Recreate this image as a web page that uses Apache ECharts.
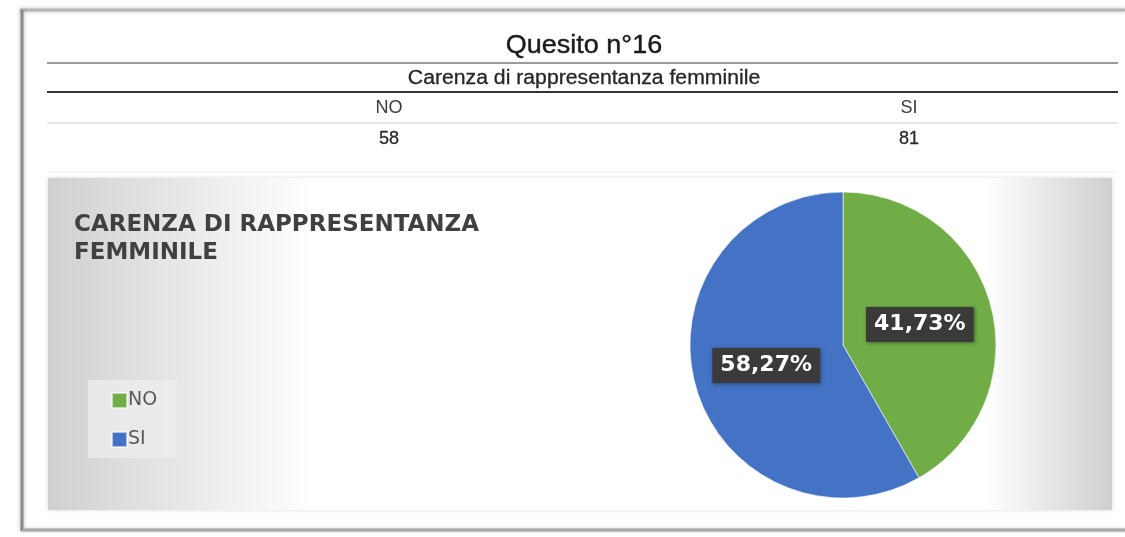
<!DOCTYPE html>
<html>
<head>
<meta charset="utf-8">
<script src="https://cdn.jsdelivr.net/npm/echarts@6/dist/echarts.min.js"></script>
<style>
html,body{margin:0;padding:0;background:#fff;}
#c{width:1125px;height:537px;}
</style>
</head>
<body>
<div id="c"></div>
<script>
const tableTitle = 'Quesito n°16';
const tableSubtitle = 'Carenza di rappresentanza femminile';
const chartTitle = 'CARENZA DI RAPPRESENTANZA\nFEMMINILE';
const categories = ['NO', 'SI'];
const values = [58, 81];
const colors = ['#70ad47', '#4472c4'];
const columnX = [389, 909];

const chart = echarts.init(document.getElementById('c'), null, {renderer: 'canvas'});

const tableFont = '"Liberation Sans", Arial, sans-serif';
const graphics = [
  // outer frame
  {type: 'line', shape: {x1: 20, y1: 10, x2: 1125, y2: 10}, style: {stroke: '#b5b5b5', lineWidth: 3, shadowBlur: 4, shadowColor: 'rgba(0,0,0,0.25)'}},
  {type: 'line', shape: {x1: 22, y1: 10, x2: 22, y2: 531}, style: {stroke: '#8a8a8a', lineWidth: 3, shadowBlur: 4, shadowColor: 'rgba(0,0,0,0.3)'}},
  {type: 'line', shape: {x1: 22, y1: 530, x2: 1125, y2: 530}, style: {stroke: '#a8a8a8', lineWidth: 3, shadowBlur: 3, shadowColor: 'rgba(0,0,0,0.25)'}},
  // table rules
  {type: 'line', shape: {x1: 47, y1: 63, x2: 1118, y2: 63}, style: {stroke: '#9a9a9a', lineWidth: 2}},
  {type: 'line', shape: {x1: 47, y1: 92, x2: 1118, y2: 92}, style: {stroke: '#333', lineWidth: 2}},
  {type: 'line', shape: {x1: 47, y1: 123, x2: 1118, y2: 123}, style: {stroke: '#dedede', lineWidth: 1.5}},
  {type: 'line', shape: {x1: 47, y1: 172, x2: 1118, y2: 172}, style: {stroke: '#eeeeee', lineWidth: 1}},
  // table texts
  {type: 'text', x: 584, y: 46, scaleX: 1.08, style: {text: tableTitle, font: '25px ' + tableFont, fill: '#1a1a1a', stroke: '#1a1a1a', lineWidth: 0.4, textAlign: 'center', textVerticalAlign: 'middle'}},
  {type: 'text', x: 584, y: 78, scaleX: 1.06, style: {text: tableSubtitle, font: '20px ' + tableFont, fill: '#262626', stroke: '#262626', lineWidth: 0.3, textAlign: 'center', textVerticalAlign: 'middle'}},
  // chart area background
  {type: 'rect', z: -10, shape: {x: 48, y: 178, width: 1064, height: 332},
    style: {fill: new echarts.graphic.LinearGradient(0, 0, 1, 0, [
      {offset: 0, color: '#d0d0d0'}, {offset: 0.25, color: '#ffffff'},
      {offset: 0.88, color: '#ffffff'}, {offset: 1, color: '#cfcfcf'}]),
      shadowBlur: 4, shadowColor: 'rgba(0,0,0,0.15)'}}
];
categories.forEach((c, i) => {
  graphics.push({type: 'text', x: columnX[i], y: 108, scaleX: 0.95, style: {text: c, font: '19px ' + tableFont, fill: '#3c3c3c', textAlign: 'center', textVerticalAlign: 'middle'}});
  graphics.push({type: 'text', x: columnX[i], y: 139, scaleX: 0.95, style: {text: String(values[i]), font: '19px ' + tableFont, fill: '#2a2a2a', stroke: '#2a2a2a', lineWidth: 0.3, textAlign: 'center', textVerticalAlign: 'middle'}});
});

chart.setOption({
  animation: false,
  title: {
    text: chartTitle,
    left: 69, top: 206,
    textStyle: {fontFamily: '"DejaVu Sans"', fontSize: 23, fontWeight: 'bold', color: '#404040', lineHeight: 28}
  },
  legend: {
    orient: 'vertical',
    left: 88, top: 380,
    padding: [11, 20, 9, 23],
    backgroundColor: 'rgba(238,238,238,0.75)',
    itemWidth: 15, itemHeight: 15, itemGap: 20,
    icon: 'rect',
    textStyle: {fontFamily: '"DejaVu Sans"', fontSize: 19, color: '#595959', padding: [0, 0, 0, -4]},
    data: categories
  },
  graphic: graphics,
  series: [{
    type: 'pie',
    center: [843, 345],
    radius: 153,
    startAngle: 90,
    clockwise: true,
    silent: true,
    label: {
      show: true,
      position: 'inside',
      formatter: p => p.percent.toFixed(2).replace('.', ',') + '%',
      fontFamily: '"DejaVu Sans"', fontSize: 22, fontWeight: 'bold', color: '#fff',
      backgroundColor: '#3a3a3a', padding: [7, 8, 6, 8],
      shadowBlur: 4, shadowColor: 'rgba(0,0,0,0.4)', shadowOffsetX: 1, shadowOffsetY: 1
    },
    labelLine: {show: false},
    itemStyle: {borderColor: 'rgba(255,255,255,0.6)', borderWidth: 1},
    data: categories.map((c, i) => ({name: c, value: values[i], itemStyle: {color: colors[i]}}))
  }]
});
</script>
</body>
</html>
